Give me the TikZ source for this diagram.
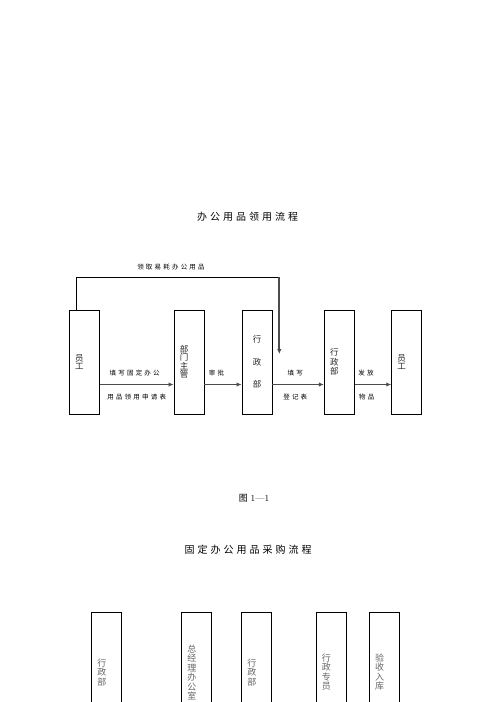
\documentclass[tikz,border=0pt]{standalone}
\usepackage{fontspec}
\newfontfamily\cjk{Noto Sans CJK SC}
\usetikzlibrary{arrows.meta}
\makeatletter
\newcommand\lsp[2]{\def\lsp@k{#1}\lsp@loop#2\relax\unkern}
\def\lsp@loop#1{\ifx#1\relax\else#1\kern\lsp@k\relax\expandafter\lsp@loop\fi}
\makeatother
\tikzset{
  box/.style={draw=black, line width=0.9pt, minimum width=30pt, text width=18.5pt,
    inner xsep=5.75pt, inner ysep=0pt, align=left, text=black!85,
    font=\cjk\fontsize{8.5}{8.5}\selectfont},
  boxone/.style={box, minimum height=104pt},
  boxtwo/.style={box, minimum height=120pt, text=black!60,
    font=\cjk\fontsize{9}{9.5}\selectfont},
  flow/.style={draw=black!70, line width=1.7pt, -{Latex[length=5pt,width=4.5pt]}},
  topline/.style={draw=black, line width=0.9pt},
  lbl/.style={font=\cjk\fontsize{6.5}{7}\selectfont, inner sep=0pt},
  ttl/.style={font=\cjk\fontsize{10}{11}\selectfont, inner sep=0pt},
}
\begin{document}
\begin{tikzpicture}[x=1pt,y=-1pt]
\useasboundingbox[fill=white] (0,0) rectangle (496,702);

% ---------- chart 1 ----------
\node[ttl] (t1) at (247.5,217) {\lsp{3pt}{办公用品领用流程}};

\node[boxone] (b1) at (84.3,362) {员\\工};
\node[boxone] (b2) at (189,362) {部\\门\\主\\管};
\node[boxone, align=center, font=\cjk\fontsize{8.5}{22.5}\selectfont] (b3) at (257,362) {行\\政\\部};
\node[boxone, font=\cjk\fontsize{8.5}{9.5}\selectfont] (b4) at (339.3,362) {行\\政\\部};
\node[boxone] (b5) at (406.7,362) {员\\工};

\draw[flow] ([yshift=-22.5pt]b1.east) -- ([yshift=-22.5pt]b2.west);
\draw[flow] ([yshift=-22.5pt]b2.east) -- ([yshift=-22.5pt]b3.west);
\draw[flow] ([yshift=-22.5pt]b3.east) -- ([yshift=-22.5pt]b4.west);
\draw[flow] ([yshift=-22.5pt]b4.east) -- ([yshift=-22.5pt]b5.west);

\coordinate (turn) at (279.3,277);
\coordinate (tip) at (279.3,354);
\draw[topline] ([xshift=-8pt]b1.north) |- (turn);
\draw[flow] (turn) -- (tip);

\node[lbl] (l0) at (171,267) {\lsp{2.2pt}{领取易耗办公用品}};
\node[lbl] (l1) at (134.7,372.7) {\lsp{2.2pt}{填写固定办公}};
\node[lbl] (l2) at (136.7,396.7) {\lsp{2.2pt}{用品领用申请表}};
\node[lbl] (l3) at (216.5,373) {\lsp{2.2pt}{审批}};
\node[lbl] (l4) at (295.3,373) {\lsp{2.2pt}{填写}};
\node[lbl] (l5) at (295.3,397) {\lsp{2.2pt}{登记表}};
\node[lbl] (l6) at (366,373) {\lsp{2.2pt}{发放}};
\node[lbl] (l7) at (366.7,397) {\lsp{2.2pt}{物品}};

\node[inner sep=0pt, font=\fontsize{9}{10}\selectfont] (fig) at (254,498) {{\cjk 图}\kern3pt 1—1};

% ---------- chart 2 ----------
\node[ttl] (t2) at (248,550) {\lsp{3pt}{固定办公用品采购流程}};

\node[boxtwo] (c1) at (106.7,672.3) {行\\政\\部};
\node[boxtwo] (c2) at (196.7,672.3) {总\\经\\理\\办\\公\\室};
\node[boxtwo] (c3) at (256.7,672.3) {行\\政\\部};
\node[boxtwo] (c4) at (331,672.3) {行\\政\\专\\员};
\node[boxtwo] (c5) at (384.3,672.3) {验\\收\\入\\库};
\end{tikzpicture}
\end{document}
